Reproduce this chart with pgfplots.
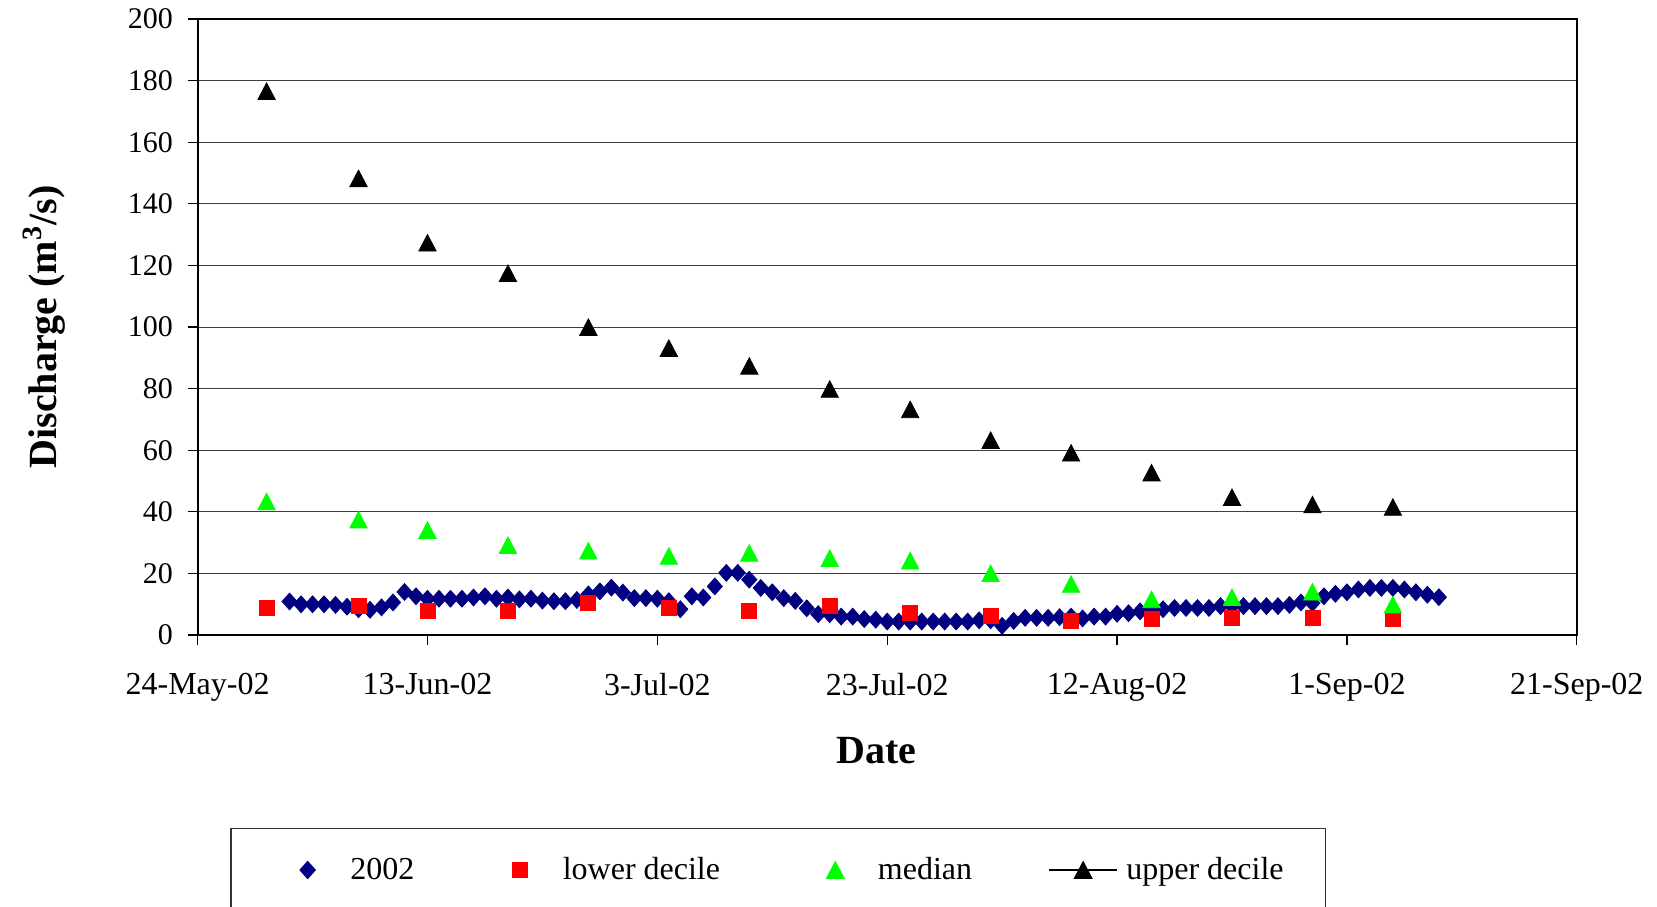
\documentclass[border=0pt]{standalone}
\usepackage{fontspec}
\setmainfont{Liberation Serif}
\usepackage{pgfplots}
\pgfplotsset{compat=1.18}
\definecolor{navyb}{RGB}{0,0,128}
\definecolor{redm}{RGB}{255,0,0}
\definecolor{greenm}{RGB}{0,255,0}
\pgfplotsset{
  updlegend/.style={legend image code/.code={\path (0pt,0pt) (34pt,0pt); \draw[black, line width=1.2pt] (0pt,0pt)--(34pt,0pt); \draw[mark repeat=2,mark phase=2,##1] plot coordinates {(0pt,0pt) (17pt,0pt) (34pt,0pt)};}},
}
\begin{document}
\begin{tikzpicture}
\begin{axis}[
  at={(0,0)}, anchor=south west,
  scale only axis,
  width=689.5pt, height=308pt,
  xmin=0, xmax=120, ymin=0, ymax=200,
  xtick={0,20,40,60,80,100,120},
  xticklabels={24-May-02,13-Jun-02,3-Jul-02,23-Jul-02,12-Aug-02,1-Sep-02,21-Sep-02},
  ytick={0,20,...,200},
  /pgf/number format/assume math mode=true,
  tick align=outside, tick pos=left,
  major tick length=5pt,
  tick style={black, line width=0.6pt},
  axis line style={black, line width=1pt},
  ymajorgrids, grid style={black!75, line width=0.5pt},
  xticklabel style={font=\fontsize{16}{16}\selectfont, yshift=-10.6pt},
  yticklabel style={font=\fontsize{15}{15}\selectfont, xshift=-3.8pt},
  every axis x label/.style={at={(axis description cs:0.492,-0.1883)}, anchor=center, font=\fontsize{20}{20}\selectfont\bfseries},
  every axis y label/.style={at={(axis description cs:-0.1114,0.5)}, anchor=center, rotate=90, font=\fontsize{20}{20}\selectfont\bfseries},
  xlabel={Date},
  ylabel={Discharge (m\textsuperscript{3}/s)},
  legend columns=4,
  legend style={at={(axis description cs:0.0238,-0.3125)}, anchor=north west,
    draw=black!80, line width=0.6pt, inner xsep=21pt, inner ysep=12.6pt,
    font=\fontsize{16}{16}\selectfont, column sep=0pt,
    nodes={inner xsep=0pt}},
  legend cell align=left,
  legend image code/.code={\path (0pt,0pt) (34pt,0pt); \draw[mark repeat=2,mark phase=2,#1] plot coordinates {(0pt,0pt) (17pt,0pt) (34pt,0pt)};},
]
\addplot[only marks, mark=diamond*, mark size=4.2pt, color=navyb, mark options={xscale=1.2}] coordinates {
(8,10.9)(9,10.0)(10,10.0)(11,10.0)(12,9.8)(13,9.2)(14,8.4)(15,8.2)(16,9.0)(17,10.6)
(18,14.0)(19,12.6)(20,11.8)(21,11.8)(22,11.8)(23,11.8)(24,12.2)(25,12.6)(26,11.8)(27,12.2)
(28,11.6)(29,11.8)(30,11.2)(31,11.0)(32,11.0)(33,11.4)(34,13.2)(35,14.2)(36,15.4)(37,13.8)
(38,12.0)(39,12.0)(40,11.8)(41,11.0)(42,8.4)(43,12.6)(44,12.2)(45,15.8)(46,20.2)(47,20.2)
(48,18.0)(49,15.3)(50,13.9)(51,12.0)(52,11.1)(53,8.7)(54,6.8)(55,6.8)(56,6.0)(57,6.0)
(58,5.2)(59,5.0)(60,4.4)(61,4.4)(62,4.4)(63,4.4)(64,4.4)(65,4.4)(66,4.4)(67,4.4)
(68,4.8)(69,4.8)(70,3.0)(71,4.6)(72,5.6)(73,5.6)(74,5.6)(75,5.8)(76,6.0)(77,5.4)
(78,6.0)(79,6.0)(80,6.9)(81,7.1)(82,7.7)(83,8.2)(84,8.4)(85,8.8)(86,8.8)(87,8.8)
(88,8.8)(89,9.4)(90,9.4)(91,9.4)(92,9.4)(93,9.4)(94,9.4)(95,9.8)(96,10.6)(97,10.4)
(98,12.6)(99,13.4)(100,13.9)(101,14.8)(102,15.3)(103,15.3)(104,15.3)(105,14.8)(106,13.9)(107,13.1)
(108,12.3)
};
\addlegendentry{\hspace*{4pt}\makebox[67.65pt][l]{2002}}
\addplot[only marks, mark=square*, mark size=3.75pt, color=redm] coordinates {
(6,8.8)(14,9.5)(20,8.0)(27,8.0)(34,10.4)(41,8.8)(48,8.0)(55,9.5)(62,7.1)(69,6.2)
(76,4.6)(83,5.4)(90,5.5)(97,5.5)(104,5.2)
};
\addlegendentry{\hspace*{4pt}\makebox[118.95pt][l]{lower decile}}
\addplot[only marks, mark=triangle*, mark size=5pt, color=greenm, mark options={yscale=1.1, yshift=-1.3pt}] coordinates {
(6,43.4)(14,37.5)(20,34.1)(27,29.2)(34,27.4)(41,25.7)(48,26.7)(55,25.0)(62,24.2)(69,20.1)
(76,16.6)(83,11.6)(90,12.3)(97,14.1)(104,9.9)
};
\addlegendentry{\hspace*{4pt}\makebox[85pt][l]{median}}
\addplot[only marks, mark=triangle*, mark size=5pt, color=black, mark options={yscale=1.1, yshift=-1.3pt}, updlegend] coordinates {
(6,176.6)(14,148.3)(20,127.4)(27,117.5)(34,100.0)(41,93.2)(48,87.4)(55,79.9)(62,73.3)(69,63.3)
(76,59.2)(83,52.75)(90,44.8)(97,42.4)(104,41.6)
};
\addlegendentry{\hspace*{4pt}upper decile}
\end{axis}
\pgfresetboundingbox
\path[use as bounding box] (-98.8pt,-135.5pt) rectangle (729.6pt,317.5pt);
\end{tikzpicture}
\end{document}
